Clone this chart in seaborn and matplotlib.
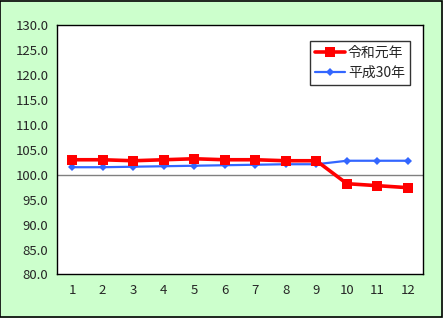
import matplotlib
matplotlib.use("Agg")
import matplotlib.pyplot as plt
import seaborn as sns
import pandas as pd

months = [1, 2, 3, 4, 5, 6, 7, 8, 9, 10, 11, 12]
reiwa = [103.0, 103.0, 102.8, 103.0, 103.2, 103.0, 103.0, 102.8, 102.8, 98.2, 97.8, 97.4]
heisei = [101.5, 101.5, 101.6, 101.7, 101.8, 101.9, 102.0, 102.1, 102.1, 102.8, 102.8, 102.8]
series_names = ["令和元年", "平成30年"]
y_ticks = [80, 85, 90, 95, 100, 105, 110, 115, 120, 125, 130]

sns.set_style("white")
plt.rcParams['font.family'] = ['Noto Sans CJK JP', 'DejaVu Sans']

df = pd.DataFrame({
    "month": months * 2,
    "value": reiwa + heisei,
    "series": [series_names[0]] * 12 + [series_names[1]] * 12,
})

fig = plt.figure(figsize=(4.43, 3.18), dpi=100, facecolor="#CCFFCC")
fig.patches.append(plt.Rectangle((0.001, 0.002), 0.997, 0.995, transform=fig.transFigure,
                                 fill=False, edgecolor="black", linewidth=1.2))
ax = fig.add_axes([0.128, 0.137, 0.8275, 0.784])
ax.set_facecolor("white")

ax.axhline(100, color="#808080", linewidth=1.0, zorder=1)

sns.lineplot(data=df[df.series == series_names[1]], x="month", y="value", ax=ax,
             color="#3366FF", linewidth=1.6, marker="D", markersize=4.5,
             markeredgewidth=0, label=series_names[1], zorder=3)
sns.lineplot(data=df[df.series == series_names[0]], x="month", y="value", ax=ax,
             color="#FF0000", linewidth=2.6, marker="s", markersize=7,
             markeredgewidth=0, label=series_names[0], zorder=4)

ax.set_xlim(0.5, 12.5)
ax.set_ylim(80, 130)
ax.set_xticks(months)
ax.set_xticklabels([str(m) for m in months], fontsize=9.5)
ax.set_yticks(y_ticks)
ax.set_yticklabels([f"{v:.1f}" for v in y_ticks], fontsize=9.5)
ax.tick_params(axis="y", direction="out", length=4, width=1, color="black", pad=2)
ax.tick_params(axis="x", length=0, pad=7)
ax.set_xlabel("")
ax.set_ylabel("")
for s in ax.spines.values():
    s.set_color("black")
    s.set_linewidth(1.0)

handles, labels = ax.get_legend_handles_labels()
order = [labels.index(series_names[0]), labels.index(series_names[1])]
leg = ax.legend([handles[i] for i in order], [labels[i] for i in order],
                loc="upper right", bbox_to_anchor=(0.963, 0.938), fontsize=10,
                frameon=True, fancybox=False, edgecolor="black", handlelength=2.2,
                borderpad=0.35, labelspacing=0.45, handletextpad=0.2, borderaxespad=0)
leg.get_frame().set_linewidth(1.0)

fig.savefig("out.png", dpi=100, facecolor=fig.get_facecolor())
